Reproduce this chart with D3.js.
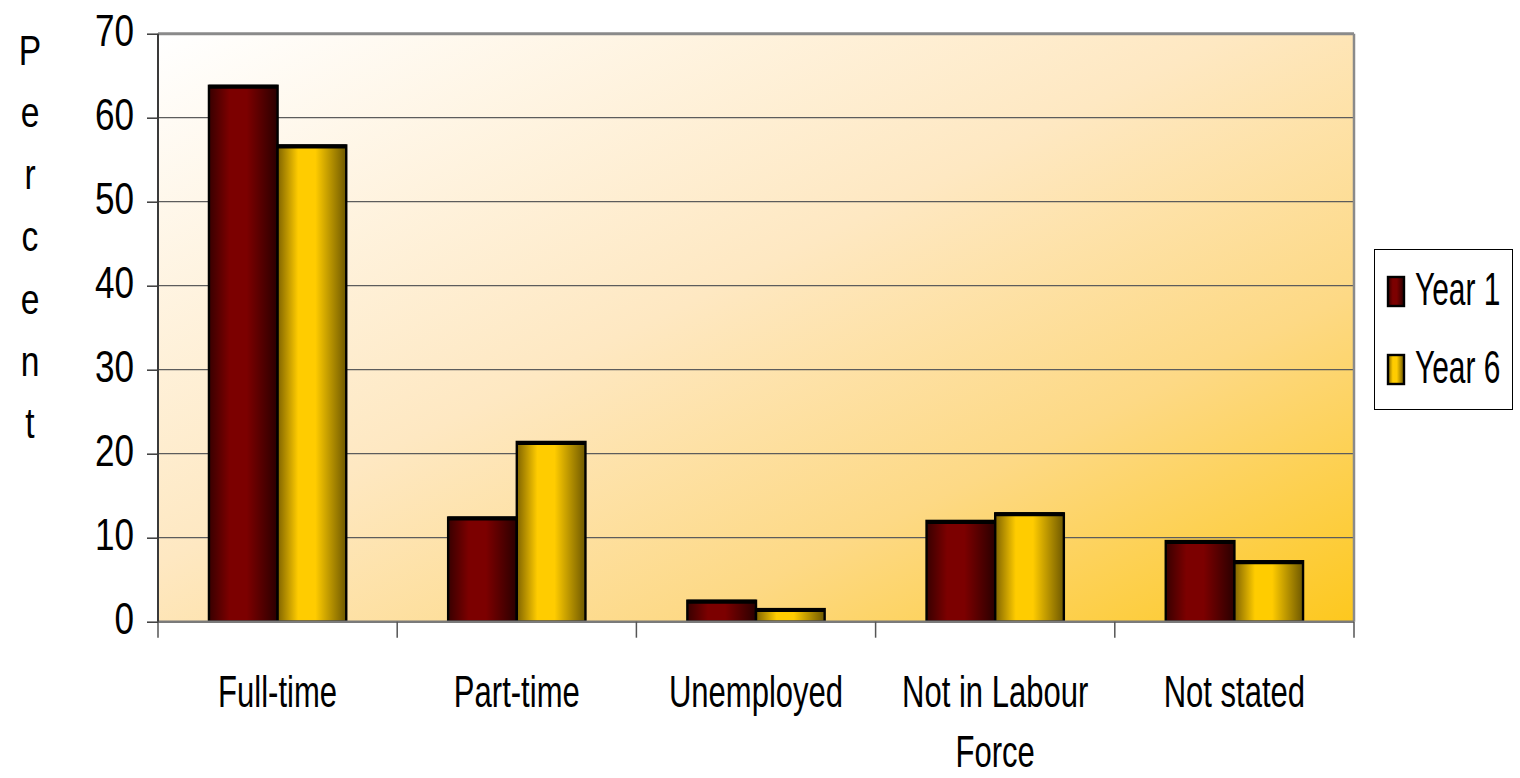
<!DOCTYPE html>
<html>
<head>
<meta charset="utf-8">
<script src="https://cdn.jsdelivr.net/npm/d3@7"></script>
<style>
  html, body { margin: 0; padding: 0; background: #ffffff; }
  svg { display: block; }
  text { font-family: "Liberation Sans", Arial, sans-serif; fill: #000; }
</style>
</head>
<body>
<svg id="chart" width="1520" height="778"></svg>
<script>
// Labour force status, percent of respondents
const categories = ["Full-time", "Part-time", "Unemployed", "Not in Labour Force", "Not stated"];
const seriesNames = ["Year 1", "Year 6"];
const year1 = [63.8, 12.4, 2.5, 12.0, 9.6];
const year6 = [56.7, 21.4, 1.5, 12.9, 7.2];
const yTicks = [0, 10, 20, 30, 40, 50, 60, 70];
const axisTitle = "Percent";

const plot = { left: 158, right: 1354, top: 33.7, bottom: 621.7 };
const FS = 45;            // condensed type, drawn by squeezing horizontally

const svg = d3.select("#chart");
const defs = svg.append("defs");

// plot background: white in the upper left, deepening to gold in the lower right
const bg = defs.append("linearGradient").attr("id", "bgGrad")
  .attr("x1", 0).attr("y1", 0).attr("x2", 1).attr("y2", 1);
[[0, "#ffffff"], [0.45, "#fee8c2"], [0.72, "#fdd985"], [1, "#fdc81e"]]
  .forEach(([o, c]) => bg.append("stop").attr("offset", o).attr("stop-color", c));

// cylinder-like shading across each bar
function barGradient(id, edgeL, mid, edgeR) {
  const g = defs.append("linearGradient").attr("id", id)
    .attr("x1", 0).attr("y1", 0).attr("x2", 1).attr("y2", 0);
  [[0, edgeL], [0.3, mid], [0.55, mid], [1, edgeR]]
    .forEach(([o, c]) => g.append("stop").attr("offset", o).attr("stop-color", c));
}
barGradient("g0", "#380000", "#7c0000", "#2a0000");
barGradient("g1", "#806400", "#ffcc00", "#6e5800");
const fills = ["url(#g0)", "url(#g1)"];

const x0 = d3.scaleBand().domain(categories).range([plot.left, plot.right]).padding(0);
const bw = x0.bandwidth();
const x1 = d3.scaleBand().domain(seriesNames).range([bw * 0.213, bw * 0.787]).padding(0);
const y = d3.scaleLinear().domain([0, 70]).range([plot.bottom, plot.top]);

// plot area
svg.append("rect")
  .attr("x", plot.left).attr("y", plot.top)
  .attr("width", plot.right - plot.left).attr("height", plot.bottom - plot.top)
  .attr("fill", "url(#bgGrad)");

// gridlines
svg.append("g")
  .selectAll("line").data(yTicks.filter(t => t > 0 && t < 70)).join("line")
  .attr("x1", plot.left).attr("x2", plot.right)
  .attr("y1", d => y(d)).attr("y2", d => y(d))
  .attr("stroke", "#5c5c5c").attr("stroke-width", 1.3);

// plot frame: top and right edges
svg.append("line").attr("x1", plot.left).attr("x2", plot.right)
  .attr("y1", plot.top).attr("y2", plot.top)
  .attr("stroke", "#8a8a8a").attr("stroke-width", 3);
svg.append("line").attr("x1", plot.right).attr("x2", plot.right)
  .attr("y1", plot.top).attr("y2", plot.bottom)
  .attr("stroke", "#8a8a8a").attr("stroke-width", 2.5);

// bars
const rows = categories.map((c, i) => ({ cat: c, vals: [year1[i], year6[i]] }));
const groups = svg.append("g").selectAll("g").data(rows).join("g")
  .attr("transform", d => `translate(${x0(d.cat)},0)`);
const bars = groups.selectAll("g").data(d => d.vals.map((v, j) => ({ s: seriesNames[j], v, j }))).join("g");
bars.append("rect")
  .attr("x", d => x1(d.s)).attr("width", x1.bandwidth())
  .attr("y", d => y(d.v)).attr("height", d => y(0) - y(d.v))
  .attr("fill", d => fills[d.j])
  .attr("stroke", "#000").attr("stroke-width", 2.4);
bars.append("line")
  .attr("x1", d => x1(d.s)).attr("x2", d => x1(d.s) + x1.bandwidth())
  .attr("y1", d => y(d.v) + 1).attr("y2", d => y(d.v) + 1)
  .attr("stroke", "#000").attr("stroke-width", 4);

// bottom axis line and category separators
svg.append("line").attr("x1", plot.left).attr("x2", plot.right)
  .attr("y1", plot.bottom).attr("y2", plot.bottom)
  .attr("stroke", "#7a7a7a").attr("stroke-width", 2.5);
const bounds = categories.map(c => x0(c)).concat([plot.right]);
svg.append("g").selectAll("line").data(bounds).join("line")
  .attr("x1", d => d).attr("x2", d => d)
  .attr("y1", plot.bottom).attr("y2", plot.bottom + 16)
  .attr("stroke", "#555").attr("stroke-width", 1.5);

// left axis
const tickSX = 0.78;
const yAxis = svg.append("g").attr("transform", `translate(${plot.left},0)`)
  .call(d3.axisLeft(y).tickValues(yTicks).tickSize(11).tickPadding(0).tickFormat(d3.format("d")));
yAxis.select(".domain").attr("stroke", "#3a3a3a").attr("stroke-width", 2)
  .attr("d", `M0,${plot.top}V${plot.bottom}`);
yAxis.selectAll(".tick line").attr("stroke", "#3a3a3a").attr("stroke-width", 1.5);
yAxis.selectAll(".tick text")
  .attr("font-size", FS).attr("font-family", "'Liberation Sans', Arial, sans-serif")
  .attr("fill", "#000")
  .attr("x", -24 / tickSX).attr("dy", "0.27em")
  .attr("transform", `scale(${tickSX},1)`);

// category labels, wrapped to two lines where needed
function wrap(s, maxChars) {
  const words = s.split(" "), lines = [];
  let cur = "";
  words.forEach(w => {
    const t = cur ? cur + " " + w : w;
    if (t.length > maxChars && cur) { lines.push(cur); cur = w; } else cur = t;
  });
  lines.push(cur);
  return lines;
}
const catLabels = svg.append("g").selectAll("text").data(categories).join("text")
  .attr("transform", d => `translate(${x0(d) + bw / 2},707) scale(0.69,1)`)
  .attr("text-anchor", "middle").attr("font-size", FS);
catLabels.selectAll("tspan").data(d => wrap(d, 13)).join("tspan")
  .attr("x", 0).attr("dy", (d, i) => i === 0 ? 0 : 60).text(d => d);

// vertical axis title, one letter per line
svg.append("g").selectAll("text").data(axisTitle.split("")).join("text")
  .attr("transform", (d, i) => `translate(30,${50 + i * 62.2}) scale(0.8,1)`)
  .attr("text-anchor", "middle").attr("dy", "0.35em").attr("font-size", 42)
  .text(d => d);

// legend
const legend = svg.append("g");
legend.append("rect").attr("x", 1374.5).attr("y", 249.5).attr("width", 138).attr("height", 160)
  .attr("fill", "#fff").attr("stroke", "#000").attr("stroke-width", 1);
const items = legend.selectAll("g").data(seriesNames).join("g")
  .attr("transform", (d, i) => `translate(1388,${277 + i * 78})`);
items.append("rect").attr("x", 0).attr("y", 0).attr("width", 16).attr("height", 29)
  .attr("fill", (d, i) => fills[i]).attr("stroke", "#000").attr("stroke-width", 2.4);
items.append("text")
  .attr("transform", `translate(27,28) scale(0.65,1)`)
  .attr("font-size", 46).text(d => d);
</script>
</body>
</html>
